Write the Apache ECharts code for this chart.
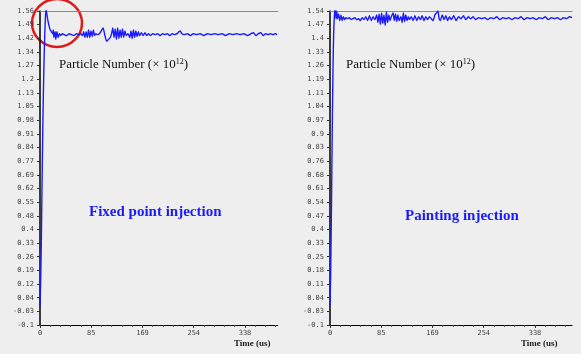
<!DOCTYPE html>
<html>
<head>
<meta charset="utf-8">
<script src="https://cdn.jsdelivr.net/npm/echarts@6/dist/echarts.min.js"></script>
<style>
  html, body { margin: 0; padding: 0; background: #eeeeee; }
  #chart { width: 581px; height: 354px; }
</style>
</head>
<body>
<div id="chart"></div>
<script>
// y tick labels, bottom to top
var yLabelsLeft = ['-0.1','-0.03','0.04','0.12','0.19','0.26','0.33','0.4','0.48','0.55','0.62','0.69',
  '0.77','0.84','0.91','0.98','1.05','1.13','1.2','1.27','1.34','1.42','1.49','1.56'];
var yLabelsRight = ['-0.1','-0.03','0.04','0.11','0.18','0.25','0.33','0.4','0.47','0.54','0.61','0.68',
  '0.76','0.83','0.9','0.97','1.04','1.11','1.19','1.26','1.33','1.4','1.47','1.54'];
var yRangeLeft = [-0.1, 1.56];
var yRangeRight = [-0.1, 1.54];

// x ticks (Time, us)
var xTickValues = [0, 84.5, 169, 253.5, 338];
var xTickLabels = ['0', '85', '169', '254', '338'];
var xMaxLeft = 392;
var xMaxRight = 399;

// fixed point injection: [time, particle number]
var fixedPoint = [
  [0,0.0],[1,0.12],[2,0.3],[3,0.55],[4,0.8],[5,1.02],[6,1.2],[7,1.34],[8,1.45],[9,1.53],[10,1.57],
  [11,1.55],[13,1.51],[15,1.48],[17,1.46],[19,1.45],[21,1.44],[22,1.46],[23,1.42],[25,1.45],[26,1.41],
  [28,1.45],[30,1.42],[32,1.44],[34,1.43],[37,1.44],[40,1.435],[44,1.43],[48,1.44],[52,1.435],[56,1.43],
  [60,1.44],[64,1.435],[67,1.44],[70,1.43],[72,1.45],[74,1.42],[76,1.45],[78,1.42],[80,1.46],[82,1.42],
  [84,1.455],[86,1.425],[88,1.46],[90,1.43],[92,1.44],[95,1.435],[98,1.44],[101,1.455],[104,1.47],
  [107,1.43],[110,1.40],[113,1.41],[116,1.42],[118,1.44],[120,1.47],[122,1.42],[124,1.465],[126,1.41],
  [128,1.47],[130,1.415],[132,1.46],[134,1.42],[136,1.465],[138,1.42],[140,1.455],[142,1.43],[145,1.44],
  [148,1.42],[150,1.455],[152,1.415],[154,1.46],[156,1.42],[158,1.455],[160,1.425],[162,1.45],[164,1.43],
  [167,1.445],[170,1.43],[173,1.445],[176,1.43],[179,1.44],[182,1.43],[186,1.44],[190,1.435],[194,1.44],
  [198,1.43],[202,1.44],[206,1.435],[210,1.44],[214,1.43],[218,1.44],[222,1.435],[226,1.44],[229,1.45],
  [231,1.455],[234,1.44],[238,1.435],[243,1.44],[248,1.43],[253,1.44],[258,1.435],[264,1.44],[270,1.43],
  [276,1.44],[282,1.435],[288,1.44],[294,1.435],[300,1.44],[306,1.43],[312,1.44],[318,1.435],[324,1.44],
  [330,1.435],[336,1.44],[342,1.43],[348,1.44],[352,1.445],[356,1.43],[360,1.44],[364,1.445],[368,1.43],
  [372,1.44],[376,1.435],[380,1.44],[384,1.435],[388,1.44],[391,1.435]
];

// painting injection: [time, particle number]
var painting = [
  [0,0.0],[1,0.15],[2,0.4],[3,0.7],[4,1.0],[5,1.25],[6,1.42],[7,1.5],[8,1.55],[9,1.53],[10,1.5],
  [11,1.54],[12,1.5],[14,1.525],[16,1.49],[18,1.52],[20,1.49],[22,1.51],[24,1.495],[26,1.505],[29,1.5],
  [32,1.505],[35,1.495],[38,1.5],[41,1.505],[44,1.495],[47,1.5],[50,1.49],[53,1.505],[56,1.495],[59,1.51],
  [62,1.49],[65,1.515],[68,1.49],[71,1.51],[74,1.495],[77,1.52],[79,1.48],[81,1.525],[83,1.47],[85,1.53],
  [87,1.475],[89,1.52],[91,1.465],[93,1.535],[95,1.48],[97,1.52],[99,1.49],[101,1.51],[104,1.53],[106,1.49],
  [108,1.525],[110,1.485],[112,1.52],[114,1.49],[117,1.51],[119,1.48],[121,1.53],[123,1.485],[125,1.52],
  [127,1.49],[129,1.51],[131,1.495],[134,1.51],[137,1.49],[140,1.515],[143,1.49],[146,1.51],[149,1.495],
  [152,1.515],[155,1.49],[158,1.51],[161,1.495],[164,1.51],[167,1.5],[170,1.49],[173,1.52],[176,1.53],
  [178,1.54],[180,1.5],[182,1.49],[185,1.52],[188,1.495],[191,1.515],[194,1.49],[197,1.51],[200,1.495],
  [204,1.515],[208,1.49],[212,1.51],[216,1.5],[220,1.515],[224,1.495],[228,1.51],[232,1.5],[236,1.51],
  [240,1.495],[245,1.505],[250,1.5],[255,1.505],[260,1.495],[265,1.505],[270,1.5],[275,1.51],[280,1.495],
  [285,1.505],[290,1.5],[295,1.505],[300,1.495],[305,1.505],[310,1.5],[315,1.51],[320,1.495],[325,1.505],
  [330,1.5],[335,1.505],[340,1.495],[345,1.505],[350,1.5],[355,1.51],[360,1.495],[365,1.505],[370,1.5],
  [375,1.505],[380,1.495],[385,1.505],[390,1.5],[395,1.51],[399,1.505]
];

function tickValues(range, n) {
  var out = [];
  for (var i = 0; i < n - 1; i++) out.push(range[0] + i * (range[1] - range[0]) / (n - 1));
  out.push(range[1]);
  return out;
}

var minorX = [];
for (var i = 0; i < 5; i++) {
  for (var k = 1; k < 5; k++) minorX.push(xTickValues[i] + k * 84.5 / 5);
}

var chart = echarts.init(document.getElementById('chart'));

function yAxisFor(gridIndex, range, labels) {
  var vals = tickValues(range, labels.length);
  return {
    type: 'value',
    gridIndex: gridIndex,
    min: range[0],
    max: range[1],
    axisLine: { show: true, onZero: false, lineStyle: { color: '#000', width: 1.5 } },
    axisTick: { show: true, length: 3, customValues: vals, lineStyle: { color: '#333' } },
    axisLabel: {
      customValues: vals,
      showMaxLabel: true,
      margin: 6,
      fontSize: 7,
      fontFamily: 'DejaVu Sans Mono',
      color: '#444',
      formatter: function (v) {
        var idx = Math.round((v - range[0]) / (range[1] - range[0]) * (labels.length - 1));
        return labels[idx];
      }
    },
    splitLine: { show: false }
  };
}

function xAxesFor(gridIndex, xMax) {
  return [
    {
      type: 'value', gridIndex: gridIndex, min: 0, max: xMax, position: 'bottom',
      axisLine: { show: true, onZero: false, lineStyle: { color: '#000', width: 1 } },
      axisTick: { show: true, length: 3, customValues: xTickValues, lineStyle: { color: '#333' } },
      axisLabel: {
        customValues: xTickValues, margin: 5, fontSize: 7, fontFamily: 'DejaVu Sans Mono', color: '#444',
        formatter: function (v) { return xTickLabels[xTickValues.indexOf(v)]; }
      },
      splitLine: { show: false }
    },
    {
      type: 'value', gridIndex: gridIndex, min: 0, max: xMax, position: 'top',
      axisLine: { show: true, onZero: false, lineStyle: { color: '#8a8a8a', width: 1 } },
      axisTick: { show: false }, axisLabel: { show: false }, splitLine: { show: false }
    },
    {
      type: 'value', gridIndex: gridIndex, min: 0, max: xMax, position: 'bottom',
      axisLine: { show: false, onZero: false },
      axisTick: { show: true, length: 2, customValues: minorX.filter(function (v) { return v < xMax; }),
        lineStyle: { color: '#555' } },
      axisLabel: { show: false }, splitLine: { show: false }
    }
  ];
}

var serifFont = 'Liberation Serif';

chart.setOption({
  backgroundColor: '#eeeeee',
  animation: false,
  grid: [
    { left: 40, top: 11, width: xMaxLeft * 0.6065, bottom: 29 },
    { left: 330, top: 11, width: xMaxRight * 0.6065, bottom: 29 }
  ],
  xAxis: xAxesFor(0, xMaxLeft).concat(xAxesFor(1, xMaxRight)),
  yAxis: [
    yAxisFor(0, yRangeLeft, yLabelsLeft),
    yAxisFor(1, yRangeRight, yLabelsRight)
  ],
  series: [
    {
      type: 'line', xAxisIndex: 0, yAxisIndex: 0, data: fixedPoint, smooth: 0.2,
      showSymbol: false, lineStyle: { color: '#1a1aff', width: 1.4 }
    },
    {
      type: 'line', xAxisIndex: 3, yAxisIndex: 1, data: painting, smooth: 0.2,
      showSymbol: false, lineStyle: { color: '#1a1aff', width: 1.4 }
    }
  ],
  graphic: [
    {
      type: 'text', left: 59, top: 58,
      style: {
        text: 'Particle Number (\u00d7 10{sup|12})',
        font: '13px ' + serifFont, fill: '#111',
        rich: { sup: { fontSize: 8, verticalAlign: 'top', fontFamily: serifFont, fill: '#111' } }
      }
    },
    {
      type: 'text', left: 346, top: 58,
      style: {
        text: 'Particle Number (\u00d7 10{sup|12})',
        font: '13px ' + serifFont, fill: '#111',
        rich: { sup: { fontSize: 8, verticalAlign: 'top', fontFamily: serifFont, fill: '#111' } }
      }
    },
    {
      type: 'text', left: 89, top: 205,
      style: { text: 'Fixed point injection', font: 'bold 15px ' + serifFont, fill: '#1a1aff' }
    },
    {
      type: 'text', left: 405, top: 209,
      style: { text: 'Painting injection', font: 'bold 15px ' + serifFont, fill: '#1a1aff' }
    },
    {
      type: 'text', left: 234, top: 339,
      style: { text: 'Time (us)', font: 'bold 9px ' + serifFont, fill: '#222' }
    },
    {
      type: 'text', left: 521, top: 339,
      style: { text: 'Time (us)', font: 'bold 9px ' + serifFont, fill: '#222' }
    },
    {
      type: 'ellipse', shape: { cx: 57, cy: 23, rx: 25, ry: 24 },
      style: { fill: 'none', stroke: '#e01818', lineWidth: 2.5 }
    }
  ]
});
</script>
</body>
</html>
